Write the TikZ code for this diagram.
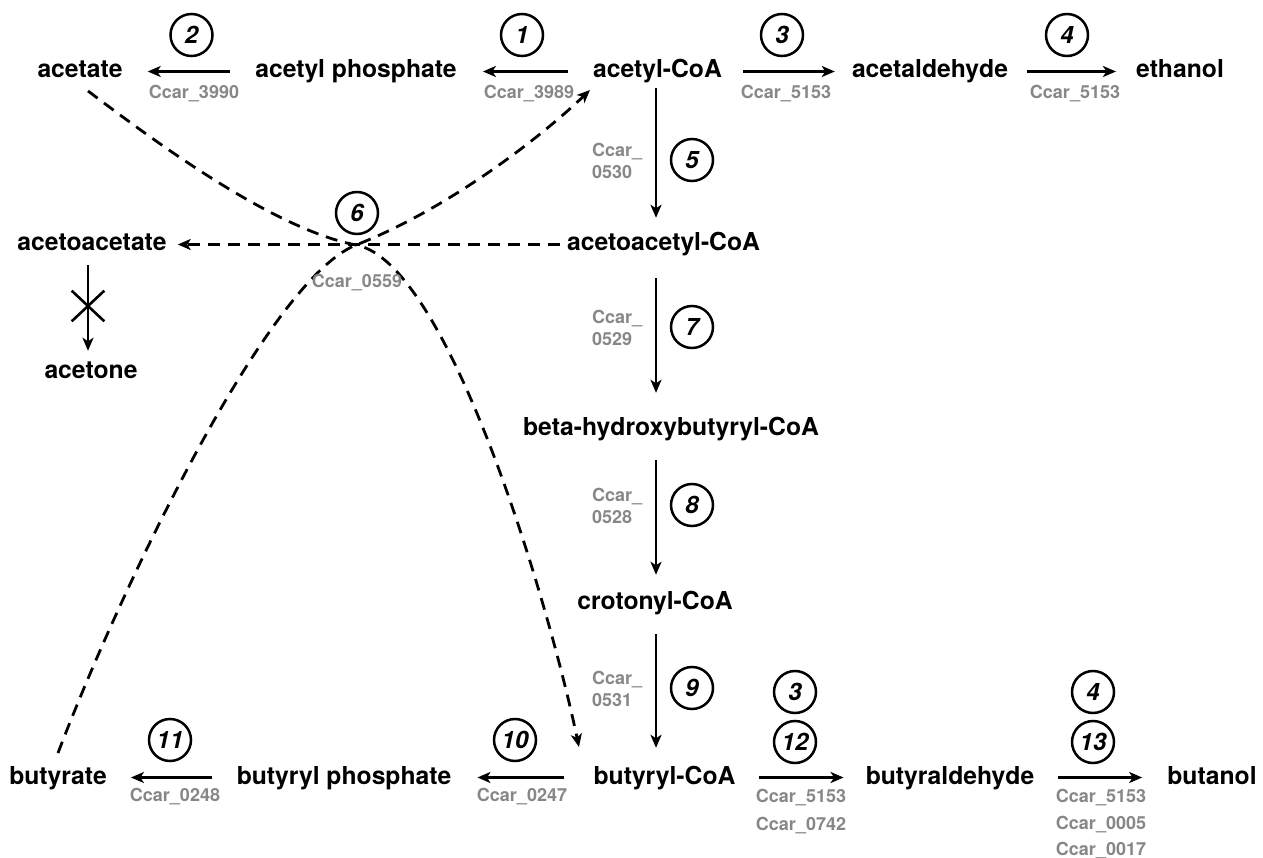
\documentclass[tikz,border=0pt]{standalone}
\usepackage{fontspec}
\setmainfont{TeX Gyre Heros}
\usetikzlibrary{arrows.meta,shapes.misc}
\definecolor{genegray}{RGB}{135,135,135}
\begin{document}
\begin{tikzpicture}[x=1pt,y=-1pt,
  met/.style={anchor=base, inner sep=0pt, text height=18pt, text depth=5pt,
    font=\fontsize{24.7}{28}\selectfont\bfseries},
  gene/.style={inner sep=0pt, text=genegray, font=\fontsize{18}{22}\selectfont\bfseries},
  num/.style={circle, draw, line width=2.5pt, minimum size=42pt, inner sep=0pt,
    font=\fontsize{24}{26}\selectfont\bfseries\itshape},
  arr/.style={line width=2.8pt, -{Stealth[length=13pt,width=11pt,inset=3.5pt]}},
  darr/.style={arr, dash pattern=on 12pt off 8pt},
]
\useasboundingbox (0,0) rectangle (1263,858);
\coordinate (col) at (656,0);
\coordinate (colL) at (88,0);
% metabolites
\node[met] (acetate) at (80,78) {acetate};
\node[met] (acp) at (356,78) {acetyl phosphate};
\node[met] (acoa) at (657.5,78) {acetyl-CoA};
\node[met] (acald) at (930,78) {acetaldehyde};
\node[met] (etoh) at (1180,78) {ethanol};
\node[met] (aacoa) at (663.5,251) {acetoacetyl-CoA};
\node[met] (aac) at (92,251) {acetoacetate};
\node[met] (acetone) at (91,378) {acetone};
\node[met] (bhb) at (671,435) {beta-hydroxybutyryl-CoA};
\node[met] (crot) at (655,609) {crotonyl-CoA};
\node[met] (bcoa) at (664.5,784) {butyryl-CoA};
\node[met] (butyrate) at (58,784) {butyrate};
\node[met] (bp) at (344,784) {butyryl phosphate};
\node[met] (bald) at (950,784) {butyraldehyde};
\node[met] (buoh) at (1212,784) {butanol};
% horizontal arrows
\draw[arr, shorten <=25pt, shorten >=25pt] (acp.west) -- (acetate.east);
\draw[arr, shorten <=25pt, shorten >=26pt] (acoa.west) -- (acp.east);
\draw[arr, shorten <=21pt, shorten >=17pt] (acoa.east) -- (acald.west);
\draw[arr, shorten <=19pt, shorten >=20pt] (acald.east) -- (etoh.west);
\draw[arr, shorten <=25pt, shorten >=24pt] (bp.west) -- (butyrate.east);
\draw[arr, shorten <=29pt, shorten >=26pt] (bcoa.west) -- (bp.east);
\draw[arr, shorten <=23pt, shorten >=22pt] (bcoa.east) -- (bald.west);
\draw[arr, shorten <=24pt, shorten >=25pt] (bald.east) -- (buoh.west);
% vertical arrows
\draw[arr, shorten <=5pt, shorten >=15pt] (acoa.south -| col) -- (aacoa.north -| col);
\draw[arr, shorten <=22pt, shorten >=24pt] (aacoa.south -| col) -- (bhb.north -| col);
\draw[arr, shorten <=20pt, shorten >=16pt] (bhb.south -| col) -- (crot.north -| col);
\draw[arr, shorten <=20pt, shorten >=18pt] (crot.south -| col) -- (bcoa.north -| col);
\draw[arr, shorten <=9pt, shorten >=9pt] (aac.south -| colL) -- (acetone.north -| colL);
\node[cross out, draw, line width=2.6pt, minimum width=30pt, minimum height=28pt, inner sep=0pt] (xmark) at (88,306) {};
% dashed
\coordinate (cross) at (356,245);
\coordinate (sA) at (88,91);
\coordinate (eA) at (579,747);
\coordinate (sB) at (58,753);
\coordinate (eB) at (590,90);
\draw[darr, shorten <=7pt, shorten >=11pt] (aacoa.west) -- (aac.east);
\draw[darr] (sA) .. controls (140,130) and (268,228) .. (cross)
  .. controls (448,262) and (548,600) .. (eA);
\draw[darr] (sB) .. controls (118,595) and (266,281) .. (cross)
  .. controls (448,209) and (540,138) .. (eB);
% circles
\node[num] (n2) at (191.5,35) {2};
\node[num] (n1) at (522,35) {1};
\node[num] (n3) at (782,35) {3};
\node[num] (n4) at (1067,35) {4};
\node[num] (n5) at (692,160) {5};
\node[num] (n6) at (357,213) {6};
\node[num] (n7) at (692,327) {7};
\node[num] (n8) at (692,505) {8};
\node[num] (n9) at (692,688) {9};
\node[num] (n3b) at (795,692) {3};
\node[num] (n12) at (795,742) {12};
\node[num] (n4b) at (1093,692) {4};
\node[num] (n13) at (1093,742) {13};
\node[num] (n11) at (170,740) {11};
\node[num] (n10) at (515,740) {10};
% gene labels
\node[gene] (g3990) at (194,94) {Ccar\_3990};
\node[gene] (g3989) at (529,94) {Ccar\_3989};
\node[gene] (g5153a) at (786,94) {Ccar\_5153};
\node[gene] (g5153b) at (1075,94) {Ccar\_5153};
\node[gene, align=left, anchor=west] (g0530) at (592,161) {Ccar\_\\0530};
\node[gene, align=left, anchor=west] (g0529) at (592,328) {Ccar\_\\0529};
\node[gene, align=left, anchor=west] (g0528) at (592,506) {Ccar\_\\0528};
\node[gene, align=left, anchor=west] (g0531) at (592,689) {Ccar\_\\0531};
\node[gene] (g0559) at (357,283) {Ccar\_0559};
\node[gene] (g0248) at (175,797) {Ccar\_0248};
\node[gene] (g0247) at (522,797) {Ccar\_0247};
\node[gene] (g5153c) at (801,798) {Ccar\_5153};
\node[gene] (g0742) at (801,826) {Ccar\_0742};
\node[gene] (g5153d) at (1101,798) {Ccar\_5153};
\node[gene] (g0005) at (1101,825) {Ccar\_0005};
\node[gene] (g0017) at (1101,851) {Ccar\_0017};
\end{tikzpicture}
\end{document}
